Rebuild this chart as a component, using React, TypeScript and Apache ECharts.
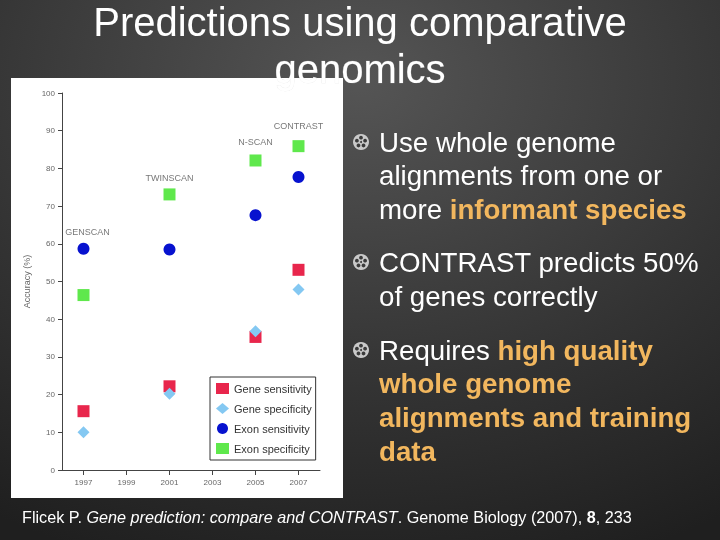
import React, { useEffect, useRef } from "react";
import * as echarts from "echarts";

const years = [1997, 2001, 2005, 2007];
const geneSensitivity = [15.6, 22.2, 35.3, 53.1];
const geneSpecificity = [10.0, 20.2, 36.8, 47.9];
const exonSensitivity = [58.7, 58.5, 67.6, 77.7];
const exonSpecificity = [46.4, 73.1, 82.1, 85.9];
const methodNames = ["GENSCAN", "TWINSCAN", "N-SCAN", "CONTRAST"];
const methodLabelY = [63.0, 77.4, 86.9, 91.3];
const xTickYears = [1997, 1999, 2001, 2003, 2005, 2007];

const FONT = "'Liberation Sans', Arial, Helvetica, sans-serif";
const ORANGE = "#f2b75e";

const bulletLines: { text: string; y: number }[] = [
  { text: "Use whole genome", y: 142 },
  { text: "alignments from one or", y: 175 },
  { text: "more {h|informant species}", y: 209 },
  { text: "CONTRAST predicts 50%", y: 262 },
  { text: "of genes correctly", y: 296 },
  { text: "Requires {h|high quality}", y: 350 },
  { text: "{h|whole genome}", y: 383 },
  { text: "{h|alignments and training}", y: 417 },
  { text: "{h|data}", y: 451 },
];
const bulletIconY = [142, 262, 350];

function reel(cx: number, cy: number) {
  const holes = [0, 1, 2, 3, 4].map((i) => {
    const a = (i * 2 * Math.PI) / 5 - Math.PI / 2;
    return {
      type: "circle",
      shape: { cx: cx + Math.cos(a) * 4.3, cy: cy + Math.sin(a) * 4.3, r: 1.9 },
      style: { fill: "#3a3a3a" },
      z: 12,
    };
  });
  return [
    { type: "circle", shape: { cx, cy, r: 8 }, style: { fill: "#c9c9c9" }, z: 11 },
    { type: "circle", shape: { cx, cy, r: 1 }, style: { fill: "#3a3a3a" }, z: 12 },
    ...holes,
  ];
}

export default function App() {
  const ref = useRef<HTMLDivElement>(null);
  useEffect(() => {
    if (!ref.current) return;
    const chart = echarts.init(ref.current, undefined, { renderer: "svg" });
    const pair = (vals: number[]) => years.map((y, i) => [y, vals[i]]);
    const graphics: any[] = [
      {
        type: "rect",
        shape: { x: 11, y: 78, width: 332, height: 420 },
        style: { fill: "#ffffff" },
        z: -10,
      },
      {
        type: "text",
        x: 360,
        y: 22,
        style: {
          text: "Predictions using comparative",
          font: `40px ${FONT}`,
          fill: "#ffffff",
          align: "center",
          verticalAlign: "middle",
        },
        z: 20,
      },
      {
        type: "text",
        x: 360,
        y: 69,
        style: {
          text: "genomics",
          font: `40px ${FONT}`,
          fill: "#ffffff",
          align: "center",
          verticalAlign: "middle",
          stroke: "rgba(200,200,200,0.45)",
          lineWidth: 0.5,
        },
        z: 20,
      },
      {
        type: "text",
        x: 22,
        y: 517,
        style: {
          text: "Flicek P. {i|Gene prediction: compare and CONTRAST}. Genome Biology (2007), {b|8}, 233",
          font: `16.2px ${FONT}`,
          fill: "#ffffff",
          verticalAlign: "middle",
          rich: {
            i: { fontStyle: "italic", fontSize: 16.2, fontFamily: FONT, fill: "#ffffff" },
            b: { fontWeight: "bold", fontSize: 16.2, fontFamily: FONT, fill: "#ffffff" },
          },
        },
        z: 20,
      },
    ];
    bulletLines.forEach((l) => {
      graphics.push({
        type: "text",
        x: 379,
        y: l.y,
        style: {
          text: l.text,
          font: `27.7px ${FONT}`,
          fill: "#ffffff",
          verticalAlign: "middle",
          rich: {
            h: { fontWeight: "bold", fontSize: 27.7, fontFamily: FONT, fill: ORANGE },
          },
        },
        z: 20,
      });
    });
    bulletIconY.forEach((y) => graphics.push(...reel(361, y)));

    chart.setOption({
      animation: false,
      backgroundColor: {
        type: "radial",
        x: 0.5,
        y: 0.15,
        r: 0.95,
        colorStops: [
          { offset: 0, color: "#555555" },
          { offset: 0.6, color: "#333333" },
          { offset: 1, color: "#1f1f1f" },
        ],
      },
      graphic: graphics,
      grid: { left: 62, top: 93, width: 258, height: 377, containLabel: false },
      xAxis: {
        type: "value",
        min: 1996,
        max: 2008,
        splitLine: { show: false },
        axisLine: { lineStyle: { color: "#444", width: 1 } },
        axisTick: { customValues: xTickYears, length: 5, lineStyle: { color: "#444" } },
        axisLabel: {
          customValues: xTickYears,
          formatter: (v: number) => String(v),
          color: "#666",
          fontSize: 8,
          fontFamily: FONT,
          margin: 8,
        },
      },
      yAxis: {
        type: "value",
        min: 0,
        max: 100,
        interval: 10,
        name: "Accuracy (%)",
        nameLocation: "middle",
        nameGap: 31,
        nameTextStyle: { color: "#666", fontSize: 9, fontFamily: FONT },
        splitLine: { show: false },
        axisLine: { show: true, lineStyle: { color: "#444", width: 1 } },
        axisTick: { show: true, length: 4, lineStyle: { color: "#444" } },
        axisLabel: { color: "#666", fontSize: 8, fontFamily: FONT, margin: 7 },
      },
      legend: {
        orient: "vertical",
        left: 210,
        top: 377,
        width: 102,
        padding: [6, 4, 6, 6],
        itemGap: 9,
        itemWidth: 13,
        itemHeight: 11,
        backgroundColor: "#ffffff",
        borderColor: "#333",
        borderWidth: 1,
        textStyle: { color: "#333", fontSize: 11, fontFamily: FONT },
        data: [
          { name: "Gene sensitivity", icon: "rect" },
          { name: "Gene specificity", icon: "diamond" },
          { name: "Exon sensitivity", icon: "circle" },
          { name: "Exon specificity", icon: "rect" },
        ],
      },
      series: [
        {
          name: "Exon specificity",
          type: "scatter",
          symbol: "rect",
          symbolSize: 12,
          itemStyle: { color: "#5fe84c", opacity: 1 },
          data: pair(exonSpecificity),
        },
        {
          name: "Exon sensitivity",
          type: "scatter",
          symbol: "circle",
          symbolSize: 12,
          itemStyle: { color: "#0712cf", opacity: 1 },
          data: pair(exonSensitivity),
        },
        {
          name: "Gene sensitivity",
          type: "scatter",
          symbol: "rect",
          symbolSize: 12,
          itemStyle: { color: "#e8264c", opacity: 1 },
          data: pair(geneSensitivity),
        },
        {
          name: "Gene specificity",
          type: "scatter",
          symbol: "diamond",
          symbolSize: 12,
          itemStyle: { color: "#84c8f2", opacity: 1 },
          data: pair(geneSpecificity),
        },
        {
          name: "methods",
          type: "scatter",
          symbolSize: 1,
          itemStyle: { color: "rgba(0,0,0,0)" },
          label: {
            show: true,
            position: "inside",
            formatter: (p: any) => methodNames[p.dataIndex],
            color: "#555",
            fontSize: 9,
            fontFamily: FONT,
          },
          data: years.map((y, i) =>
            i === 0
              ? { value: [y, methodLabelY[i]], label: { offset: [4, 0] } }
              : { value: [y, methodLabelY[i]] }
          ),
        },
      ],
    });
    return () => chart.dispose();
  }, []);
  return (
    <div
      ref={ref}
      style={{ position: "fixed", left: 0, top: 0, width: 720, height: 540 }}
    />
  );
}
